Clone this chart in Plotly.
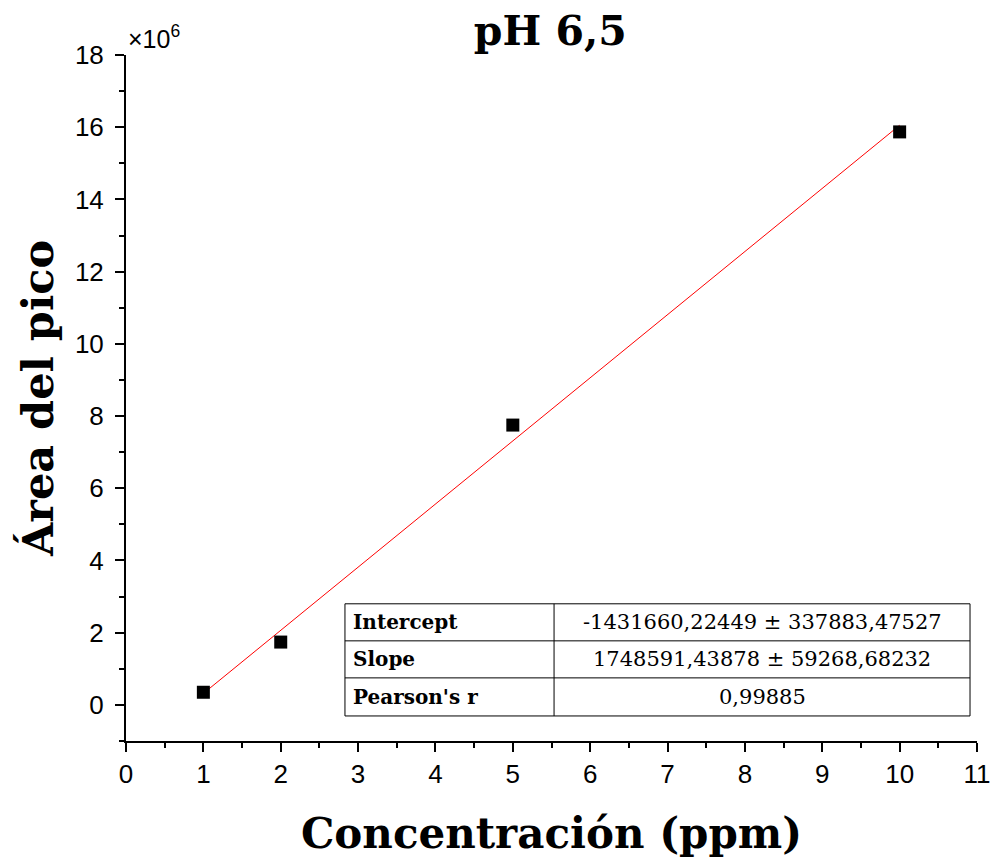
import plotly.graph_objects as go

# Calibration data: concentration (ppm) vs peak area
conc = [1, 2, 5, 10]
area = [0.35e6, 1.74e6, 7.75e6, 15.87e6]

# Linear fit results
intercept = -1431660.22449
slope = 1748591.43878
fit_labels = ["Intercept", "Slope", "Pearson's r"]
fit_values = ["-1431660,22449 \u00b1 337883,47527",
              "1748591,43878 \u00b1 59268,68232",
              "0,99885"]

x_ticks = list(range(0, 12))
y_ticks = list(range(0, 20, 2))

SCALE = 1e6
SLAB = "DejaVu Serif"
SANS = "Liberation Sans, Arial"

fig = go.Figure()

fit_x = [conc[0], conc[-1]]
fit_y = [(intercept + slope * v) / SCALE for v in fit_x]
fig.add_trace(go.Scatter(x=fit_x, y=fit_y, mode="lines",
                         line=dict(color="#ff0000", width=1), showlegend=False))
fig.add_trace(go.Scatter(x=conc, y=[a / SCALE for a in area], mode="markers",
                         marker=dict(symbol="square", size=13, color="black",
                                     line=dict(width=0)),
                         showlegend=False))

axis_common = dict(showline=True, linecolor="black", linewidth=2,
                   ticks="outside", ticklen=9, tickwidth=2, tickcolor="black",
                   showgrid=False, zeroline=False, automargin=False,
                   tickfont=dict(family=SANS, size=26, color="black"))

fig.update_xaxes(range=[0, 11], tickvals=x_ticks, **axis_common,
                 minor=dict(ticks="outside", ticklen=5, tickwidth=2,
                            tickcolor="black", dtick=0.5, tick0=0),
                 title=dict(text="<b>Concentración (ppm)</b>",
                            font=dict(family=SLAB, size=42, color="black"),
                            standoff=30))
fig.update_yaxes(range=[-1, 18], tickvals=y_ticks, **axis_common,
                 ticklabelstandoff=6,
                 minor=dict(ticks="outside", ticklen=5, tickwidth=2,
                            tickcolor="black", dtick=1, tick0=0),
                 title=dict(text="<b>Área del pico</b>",
                            font=dict(family=SLAB, size=43, color="black"),
                            standoff=8))

fig.add_annotation(x=0, y=1, xref="paper", yref="paper", xanchor="left",
                   yanchor="bottom", yshift=0, showarrow=False,
                   text="\u00d710<sup>6</sup>",
                   font=dict(family=SANS, size=25, color="black"))

# Fit results table
tx = [0.2573, 0.503, 0.9918]
ty = [0.2, 0.146, 0.092, 0.0365]
shapes = [dict(type="rect", xref="paper", yref="paper", x0=tx[0], x1=tx[2],
               y0=ty[3], y1=ty[0], line=dict(color="black", width=1),
               fillcolor="white", layer="above")]
shapes.append(dict(type="line", xref="paper", yref="paper", x0=tx[1], x1=tx[1],
                   y0=ty[3], y1=ty[0], line=dict(color="black", width=1)))
for yy in ty[1:3]:
    shapes.append(dict(type="line", xref="paper", yref="paper", x0=tx[0], x1=tx[2],
                       y0=yy, y1=yy, line=dict(color="black", width=1)))
fig.update_layout(shapes=shapes)

for i, (lab, val) in enumerate(zip(fit_labels, fit_values)):
    yc = (ty[i] + ty[i + 1]) / 2
    fig.add_annotation(x=tx[0], y=yc, xref="paper", yref="paper", xanchor="left",
                       yanchor="middle", xshift=6, showarrow=False,
                       text="<b>" + lab + "</b>",
                       font=dict(family=SLAB, size=20, color="black"))
    fig.add_annotation(x=(tx[1] + tx[2]) / 2, y=yc, xref="paper", yref="paper",
                       xanchor="center", yanchor="middle", showarrow=False,
                       text=val,
                       font=dict(family=SLAB, size=21, color="black"))

fig.update_layout(
    width=995, height=867,
    margin=dict(l=126, r=18, t=55, b=126),
    paper_bgcolor="white", plot_bgcolor="white",
    title=dict(text="<b>pH 6,5</b>", x=0.553, xanchor="center", y=0.965,
               yanchor="middle",
               font=dict(family=SLAB, size=41, color="black")),
)

fig.write_html("out.html")
